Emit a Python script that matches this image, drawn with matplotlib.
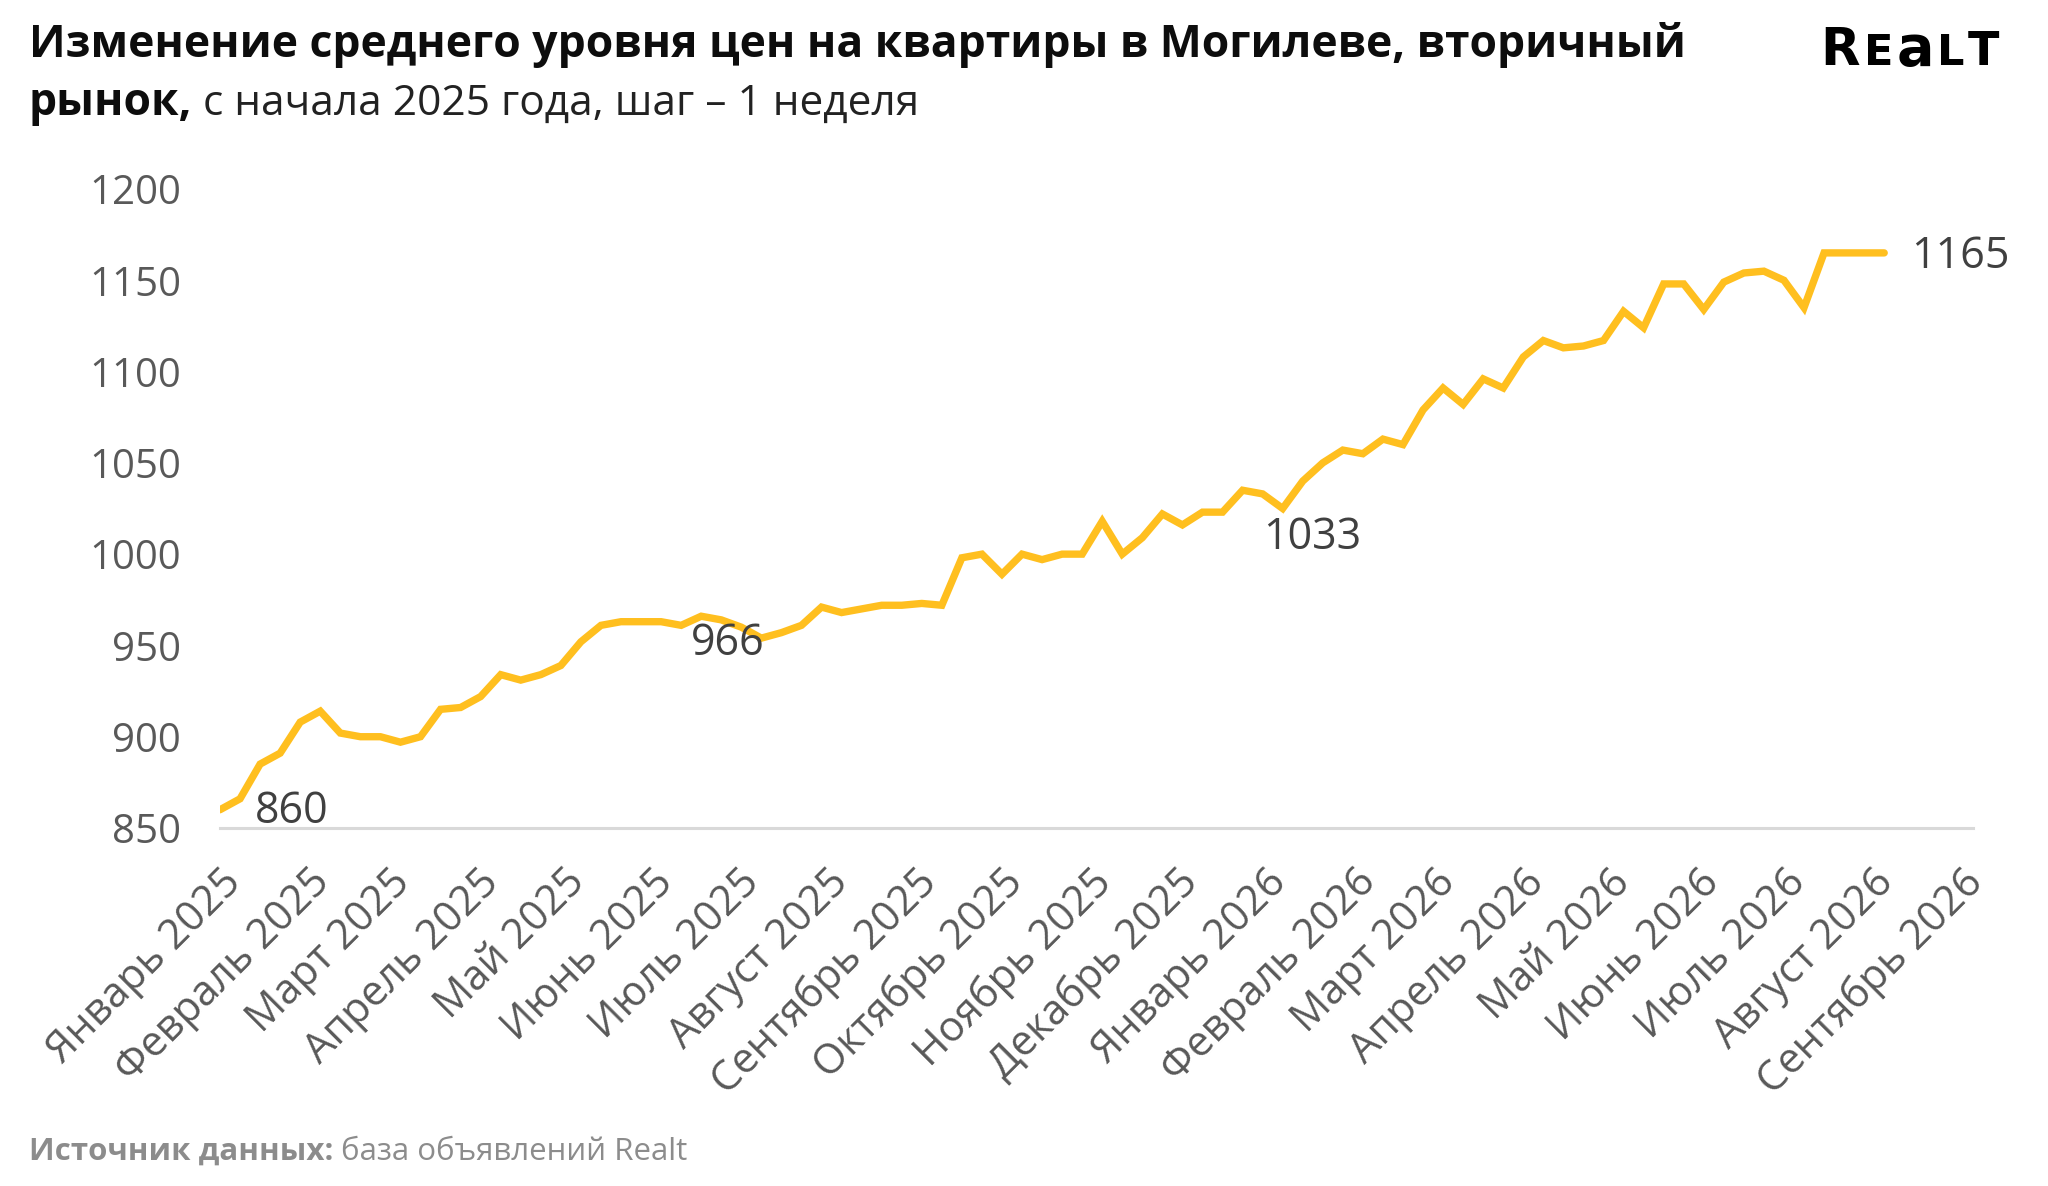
import matplotlib
matplotlib.use('Agg')
import matplotlib.pyplot as plt
import matplotlib.transforms as mtransforms
import pandas as pd

# ---------------- data ----------------
start_date = '2025-01-01'
prices = [860, 866, 885, 891, 908, 914, 902, 900, 900, 897,
          900, 915, 916, 922, 934, 931, 934, 939, 952, 961,
          963, 963, 963, 961, 966, 964, 960, 954, 957, 961,
          971, 968, 970, 972, 972, 973, 972, 998, 1000, 989,
          1000, 997, 1000, 1000, 1018, 1000, 1009, 1022, 1016, 1023,
          1023, 1035, 1033, 1025, 1040, 1050, 1057, 1055, 1063, 1060,
          1079, 1091, 1082, 1096, 1091, 1108, 1117, 1113, 1114, 1117,
          1133, 1124, 1148, 1148, 1134, 1149, 1154, 1155, 1150, 1135,
          1165, 1165, 1165, 1165]
tick_labels = ['Январь 2025', 'Февраль 2025', 'Март 2025', 'Апрель 2025',
               'Май 2025', 'Июнь 2025', 'Июль 2025', 'Август 2025',
               'Сентябрь 2025', 'Октябрь 2025', 'Ноябрь 2025', 'Декабрь 2025',
               'Январь 2026', 'Февраль 2026', 'Март 2026', 'Апрель 2026',
               'Май 2026', 'Июнь 2026', 'Июль 2026', 'Август 2026',
               'Сентябрь 2026']
y_ticks = [850, 900, 950, 1000, 1050, 1100, 1150, 1200]
annot_idx = [0, 24, 52, 83]
annot_offsets = [(72, -2), (27, -28), (50, -44), (76, -4)]  # pixels

title_bold = 'Изменение среднего уровня цен на квартиры в Могилеве, вторичный'
title2_bold = 'рынок,'
title2_reg = ' с начала 2025 года, шаг – 1 неделя'
source_bold = 'Источник данных:'
source_reg = ' база объявлений Realt'
logo_letters = ['R', 'E', 'a', 'L', 'T']

# ---------------- plot ----------------
FONT = ['Open Sans', 'DejaVu Sans']
plt.rcParams['font.family'] = FONT

dates = pd.date_range(start_date, periods=len(prices), freq='7D')
month_ticks = pd.date_range('2025-01-01', periods=len(tick_labels), freq='MS')

W, H = 2048, 1186
fig = plt.figure(figsize=(W / 100, H / 100), dpi=100)
ax = fig.add_axes([220 / W, 1 - 828 / H, (1973 - 220) / W, (828 - 189) / H])

line_color = '#FFBF1F'
ax.plot(dates, prices, color=line_color, lw=5.3, solid_capstyle='round',
        solid_joinstyle='miter', zorder=3)

ax.set_ylim(850, 1200)
ax.set_xlim(pd.Timestamp('2025-01-01'), pd.Timestamp('2026-09-05'))
ax.set_yticks(y_ticks)
ax.set_yticklabels([str(v) for v in y_ticks])
ax.set_xticks(month_ticks)
ax.set_xticklabels(tick_labels, rotation=45, ha='right', va='top',
                   rotation_mode='anchor')

for s in ['top', 'right', 'left']:
    ax.spines[s].set_visible(False)
ax.spines['bottom'].set_color('#d9d9d9')
ax.spines['bottom'].set_linewidth(2.2)
ax.tick_params(axis='both', length=0, colors='#595959')
ax.tick_params(axis='y', pad=28, labelsize=29)
ax.tick_params(axis='x', pad=24, labelsize=30)
shift = mtransforms.ScaledTranslation(0.0, 0, fig.dpi_scale_trans)
for lab in ax.get_xticklabels():
    lab.set_transform(lab.get_transform() + shift)

for i, (dx, dy) in zip(annot_idx, annot_offsets):
    ax.annotate(str(prices[i]), xy=(dates[i], prices[i]), xytext=(dx, dy),
                textcoords='offset pixels', ha='center', va='center',
                fontsize=31, color='#404040', zorder=4)

# ---------------- texts ----------------
fig.text(29 / W, 1 - 45 / H, title_bold, fontsize=32, fontweight='bold',
         color='#0d0d0d', va='center', ha='left')
fig.canvas.draw()
r = fig.canvas.get_renderer()
t2 = fig.text(29 / W, 1 - 104 / H, title2_bold, fontsize=32, fontweight='bold',
              color='#0d0d0d', va='center', ha='left')
bb = t2.get_window_extent(r)
fig.text(bb.x1 / W, 1 - 104 / H, title2_reg, fontsize=30.5, color='#222222',
         va='center', ha='left')

s1 = fig.text(29 / W, 1 - 1152 / H, source_bold, fontsize=22.5, fontweight='bold',
              color='#8c8c8c', va='center', ha='left')
bb = s1.get_window_extent(r)
fig.text(bb.x1 / W, 1 - 1152 / H, source_reg, fontsize=22.5, color='#8c8c8c',
         va='center', ha='left')

# logo (letter-by-letter to mimic the wide wordmark)
logo_x = [1820, 1864, 1897, 1937, 1968]
logo_sizes = [37, 31, 40, 31, 33]
for ch, lx, fs in zip(logo_letters, logo_x, logo_sizes):
    fig.text(lx / W, 1 - 65 / H, ch, fontsize=fs, fontweight='bold',
             color='black', va='baseline', ha='left', family='DejaVu Sans')

fig.savefig('out.png', dpi=100, facecolor='white')
